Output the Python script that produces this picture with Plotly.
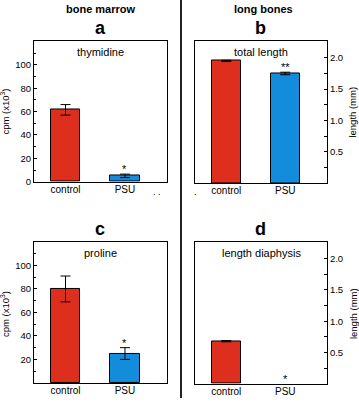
import plotly.graph_objects as go

categories = ["control", "PSU"]
thymidine = [61.5, 5.0]
thymidine_err = [4.5, 1.5]
total_length = [1.95, 1.75]
total_length_err = [0.01, 0.02]
proline = [80.0, 25.0]
proline_err = [11.0, 5.0]
length_diaphysis = [0.68, None]
length_diaphysis_err = [0.01, None]
colors = ["#de2e1e", "#148cdc"]
panels = [
    ("a", "thymidine", thymidine, thymidine_err, ["", "*"]),
    ("b", "total length", total_length, total_length_err, ["", "**"]),
    ("c", "proline", proline, proline_err, ["", "*"]),
    ("d", "length diaphysis", length_diaphysis, length_diaphysis_err, ["", "*"]),
]

W, H = 359, 403
def px(x): return x / W
def py(y): return 1 - y / H

domains = {
    "a": ([px(34), px(167)], [py(184), py(42)]),
    "b": ([px(195), px(327)], [py(185.5), py(42)]),
    "c": ([px(34), px(167)], [py(387.7), py(245)]),
    "d": ([px(195), px(327)], [py(388.5), py(245.5)]),
}
yranges = {"a": [0, 120], "b": [0, 2.26], "c": [0, 120], "d": [0, 2.26]}
FONT = "Liberation Sans, Arial, sans-serif"

fig = go.Figure()
layout = {}
annotations = []
for i, (letter, label, vals, errs, stars) in enumerate(panels):
    n = "" if i == 0 else str(i + 1)
    xa, ya = "x" + n, "y" + n
    fig.add_trace(go.Bar(
        x=[0, 1], y=vals, xaxis=xa, yaxis=ya, width=0.49,
        marker=dict(color=colors, line=dict(color="black", width=1)),
        error_y=dict(type="data", array=errs, color="black", thickness=1, width=5,
                     visible=True),
        showlegend=False,
    ))
    xd, yd = domains[letter]
    right = letter in ("b", "d")
    layout["xaxis" + n] = dict(
        domain=xd, anchor=ya, range=[-0.53, 1.707], tickmode="array",
        tickvals=[0, 1], ticktext=categories, showline=True, mirror=True,
        linecolor="black", linewidth=1, ticks="", showgrid=False, zeroline=False,
        ticklabelstandoff=-2,
        tickfont=dict(size=10, color="black", family=FONT), fixedrange=True,
    )
    if right:
        tv = [0.5, 1.0, 1.5, 2.0]
        tt = ["0.5", "1.0", "1.5", "2.0"]
        minor = dict(ticks="inside", ticklen=3, tickvals=[0.25, 0.75, 1.25, 1.75], tickcolor="black")
    else:
        tv = [0, 20, 40, 60, 80, 100] if letter == "a" else [20, 40, 60, 80, 100]
        tt = [str(v) for v in tv]
        minor = dict(ticks="inside", ticklen=2, tickvals=[10, 30, 50, 70, 90, 110], tickcolor="black")
    layout["yaxis" + n] = dict(
        domain=yd, anchor=xa, range=yranges[letter], tickmode="array",
        tickvals=tv, ticktext=tt, side="right" if right else "left",
        showline=True, mirror=True, linecolor="black", linewidth=1,
        ticks="inside", ticklen=3, tickcolor="black", minor=minor,
        showgrid=False, zeroline=False,
        tickfont=dict(size=9.5, color="black", family=FONT), fixedrange=True,
    )
    # inner label
    annotations.append(dict(text=label, x=(xd[0] + xd[1]) / 2, y=yd[1] - 3 / H,
                            xref="paper", yref="paper", xanchor="center", yanchor="top",
                            showarrow=False, font=dict(size=11, color="black", family=FONT)))
    # panel letter
    annotations.append(dict(text="<b>%s</b>" % letter, x=(xd[0] + xd[1]) / 2 - 0.5 / W,
                            y=yd[1] + 1 / H, xref="paper", yref="paper",
                            xanchor="center", yanchor="bottom", showarrow=False,
                            font=dict(size=18, color="black", family=FONT)))
    # significance stars
    for j, s in enumerate(stars):
        if s:
            top = (vals[j] or 0) + (errs[j] or 0)
            annotations.append(dict(text=s, x=j, y=top, xref=xa, yref=ya,
                                    xanchor="center", yanchor="bottom", yshift=-3,
                                    showarrow=False,
                                    font=dict(size=11, color="black", family=FONT)))

# y axis titles
annotations += [
    dict(text="cpm (x10<sup>3</sup>)", x=px(5), y=py(113), textangle=-90),
    dict(text="cpm (x10<sup>3</sup>)", x=px(5), y=py(318), textangle=-90),
    dict(text="length (mm)", x=px(353), y=py(114), textangle=-90),
    dict(text="length (mm)", x=px(353), y=py(318), textangle=-90),
]
for a in annotations[-4:]:
    a.update(xref="paper", yref="paper", xanchor="center", yanchor="middle",
             showarrow=False, font=dict(size=9.5, color="black", family=FONT))

# section headers
annotations += [
    dict(text="<b>bone marrow</b>", x=px(101), y=py(9), xref="paper", yref="paper",
         xanchor="center", yanchor="middle", showarrow=False,
         font=dict(size=11, color="black", family=FONT)),
    dict(text="<b>long bones</b>", x=px(263), y=py(9), xref="paper", yref="paper",
         xanchor="center", yanchor="middle", showarrow=False,
         font=dict(size=11, color="black", family=FONT)),
    dict(text=". .", x=px(157), y=py(194), xref="paper", yref="paper",
         xanchor="center", yanchor="middle", showarrow=False,
         font=dict(size=9, color="black", family=FONT)),
    dict(text=".", x=px(195), y=py(194), xref="paper", yref="paper",
         xanchor="center", yanchor="middle", showarrow=False,
         font=dict(size=9, color="black", family=FONT)),
]

fig.update_layout(
    width=W, height=H, margin=dict(l=0, r=0, t=0, b=0),
    paper_bgcolor="white", plot_bgcolor="white",
    annotations=annotations, bargap=0,
    shapes=[dict(type="line", xref="paper", yref="paper", x0=px(181), x1=px(181),
                 y0=0, y1=1, line=dict(color="#222", width=2))],
    **layout,
)
fig.write_html("out.html", config={"displayModeBar": False},
               post_script="document.body.style.margin='0';document.body.style.overflow='hidden';")
